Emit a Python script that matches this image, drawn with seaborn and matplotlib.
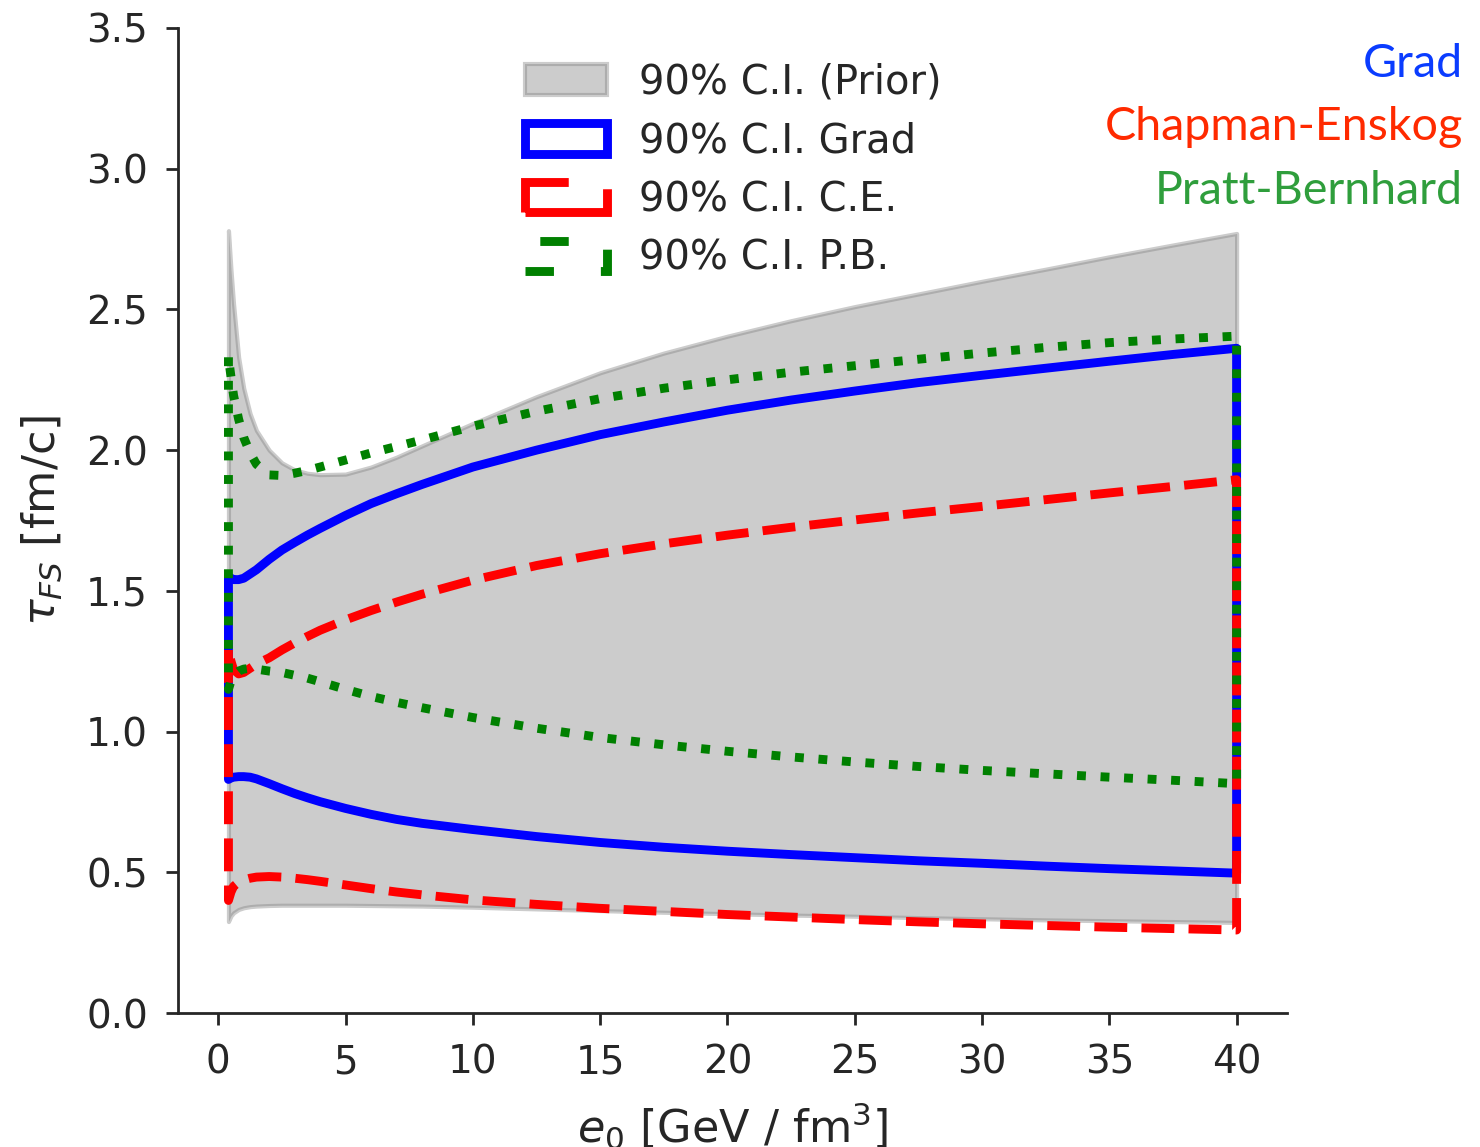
import numpy as np
import matplotlib
matplotlib.use("Agg")
import matplotlib.pyplot as plt
import seaborn as sns

# Initial energy density grid [GeV / fm^3]
e0 = [0.4, 0.5, 0.6, 0.8, 1.0, 1.25, 1.5, 2.0, 2.5, 3.0, 3.5, 4.0, 5.0, 6.0, 7.0,
      8.0, 10.0, 12.5, 15.0, 17.5, 20.0, 22.5, 25.0, 27.5, 30.0, 32.5, 35.0, 37.5, 40.0]

# 90% credible intervals of the free-streaming time tau_FS [fm/c]
prior_hi = [2.78, 2.64, 2.52, 2.33, 2.22, 2.13, 2.07, 2.00, 1.955, 1.93, 1.918, 1.913,
            1.915, 1.94, 1.975, 2.015, 2.095, 2.19, 2.275, 2.345, 2.405, 2.46, 2.51,
            2.555, 2.60, 2.643, 2.687, 2.729, 2.77]
prior_lo = [0.325, 0.345, 0.356, 0.368, 0.374, 0.378, 0.380, 0.382, 0.383, 0.383,
            0.383, 0.383, 0.383, 0.382, 0.381, 0.380, 0.376, 0.370, 0.364, 0.358,
            0.353, 0.348, 0.344, 0.339, 0.335, 0.331, 0.328, 0.325, 0.322]

grad_hi = [1.55, 1.545, 1.54, 1.54, 1.545, 1.56, 1.575, 1.612, 1.645, 1.672, 1.698,
           1.722, 1.768, 1.81, 1.845, 1.878, 1.94, 2.00, 2.055, 2.10, 2.142, 2.178,
           2.21, 2.24, 2.266, 2.291, 2.316, 2.34, 2.362]
grad_lo = [0.83, 0.835, 0.838, 0.84, 0.84, 0.838, 0.832, 0.815, 0.797, 0.78, 0.765,
           0.751, 0.727, 0.706, 0.688, 0.674, 0.652, 0.627, 0.606, 0.589, 0.575,
           0.563, 0.552, 0.541, 0.532, 0.522, 0.513, 0.505, 0.497]

ce_hi = [1.29, 1.25, 1.22, 1.205, 1.21, 1.225, 1.24, 1.262, 1.29, 1.315, 1.338, 1.36,
         1.397, 1.43, 1.46, 1.488, 1.538, 1.59, 1.632, 1.667, 1.698, 1.726, 1.752,
         1.777, 1.80, 1.824, 1.848, 1.871, 1.895]
ce_lo = [0.40, 0.43, 0.45, 0.465, 0.473, 0.479, 0.483, 0.485, 0.483, 0.479, 0.474,
         0.468, 0.455, 0.442, 0.430, 0.420, 0.402, 0.386, 0.372, 0.361, 0.350, 0.341,
         0.332, 0.324, 0.317, 0.311, 0.305, 0.300, 0.295]

pb_hi = [2.33, 2.26, 2.195, 2.11, 2.045, 1.99, 1.95, 1.912, 1.91, 1.918, 1.928, 1.94,
         1.965, 1.99, 2.013, 2.036, 2.085, 2.138, 2.183, 2.22, 2.25, 2.277, 2.30, 2.323,
         2.345, 2.365, 2.382, 2.395, 2.405]
pb_lo = [1.15, 1.18, 1.20, 1.215, 1.222, 1.225, 1.222, 1.215, 1.21, 1.20, 1.19, 1.177,
         1.15, 1.125, 1.104, 1.085, 1.05, 1.012, 0.979, 0.953, 0.93, 0.91, 0.892,
         0.876, 0.862, 0.85, 0.838, 0.827, 0.815]

labels = ["90% C.I. (Prior)", "90% C.I. Grad", "90% C.I. C.E.", "90% C.I. P.B."]
model_names = ["Grad", "Chapman-Enskog", "Pratt-Bernhard"]
model_colors = ["#0a3cff", "#ff2a00", "#2f9e3c"]

sns.set_theme(style="ticks")
plt.rcParams["font.family"] = ["DejaVu Sans"]
plt.rcParams["mathtext.fontset"] = "dejavusans"
plt.rcParams["text.color"] = "#262626"

fig = plt.figure(figsize=(7.4, 5.735), dpi=200)
ax = fig.add_axes([0.1203, 0.1168, 0.7493, 0.8588])

lw = 3.2
ax.fill_between(e0, prior_lo, prior_hi, color="gray", alpha=0.4, lw=1.5,
                label=labels[0], zorder=1)
ax.fill_between(e0, grad_lo, grad_hi, facecolor="none", edgecolor="blue",
                lw=lw, ls="-", label=labels[1], zorder=2)
ax.fill_between(e0, ce_lo, ce_hi, facecolor="none", edgecolor="red",
                lw=lw, ls="--", label=labels[2], zorder=3)
ax.fill_between(e0, pb_lo, pb_hi, facecolor="none", edgecolor="green",
                lw=lw, ls=":", label=labels[3], zorder=4)

ax.set_ylim(0, 3.5)
ax.set_xticks(np.arange(0, 41, 5))
ax.set_yticks(np.arange(0, 3.51, 0.5))
ax.yaxis.set_major_formatter(matplotlib.ticker.FormatStrFormatter("%.1f"))

ax.tick_params(axis="both", labelsize=14, length=4.3, width=1.0, pad=6.5,
               colors="#262626")
for side in ("left", "bottom"):
    ax.spines[side].set_linewidth(1.0)
    ax.spines[side].set_color("#262626")
sns.despine(ax=ax)

ax.set_xlabel(r"$e_0$ [GeV / fm$^3$]", fontsize=16, labelpad=7)
ax.set_ylabel(r"$\tau_{FS}$ [fm/c]", fontsize=16, labelpad=8)

ax.legend(loc="upper left", bbox_to_anchor=(0.3127, 0.965), frameon=False,
          fontsize=14.4, handlelength=2.06, handleheight=0.8, handletextpad=0.8,
          labelspacing=0.47, borderpad=0, borderaxespad=0)

for i, (name, col) in enumerate(zip(model_names, model_colors)):
    fig.text(0.9885, 1 - (77 + 63.5 * i) / 1147, name, color=col, ha="right",
             va="baseline", fontsize=16.8, family=["Lato", "DejaVu Sans"])

fig.savefig("out.png", dpi=200)
